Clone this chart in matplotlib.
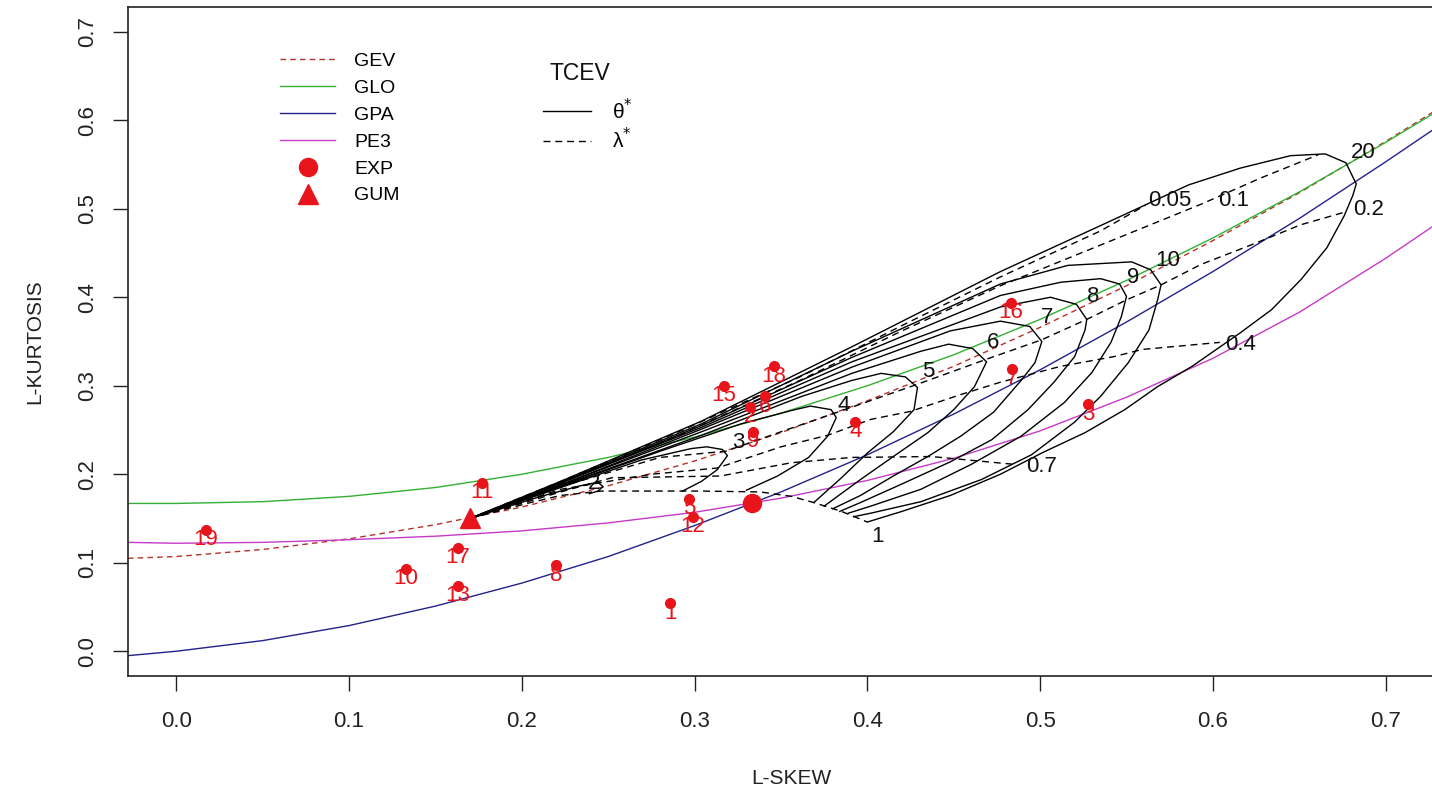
import matplotlib
matplotlib.use('Agg')
import matplotlib.pyplot as plt
from matplotlib.lines import Line2D

plt.rcParams['font.family'] = ['Liberation Sans', 'DejaVu Sans']

# theoretical L-moment ratio curves (read along the L-skew grid)
skew_grid = [-0.028, 0.0, 0.05, 0.1, 0.15, 0.2, 0.25, 0.3, 0.35, 0.4,
             0.45, 0.5, 0.55, 0.6, 0.65, 0.7, 0.728]
gev_kurt = [0.105, 0.107, 0.115, 0.127, 0.143, 0.163, 0.187, 0.215, 0.247, 0.283,
            0.322, 0.366, 0.413, 0.464, 0.518, 0.576, 0.610]
glo_kurt = [0.167, 0.167, 0.169, 0.175, 0.185, 0.200, 0.219, 0.242, 0.269, 0.300,
            0.335, 0.375, 0.419, 0.467, 0.519, 0.575, 0.608]
gpa_kurt = [-0.005, 0.0, 0.012, 0.029, 0.051, 0.077, 0.107, 0.142, 0.180, 0.222,
            0.268, 0.318, 0.372, 0.429, 0.489, 0.553, 0.590]
pe3_kurt = [0.123, 0.122, 0.123, 0.126, 0.130, 0.136, 0.145, 0.157, 0.173, 0.193,
            0.218, 0.249, 0.287, 0.331, 0.383, 0.444, 0.481]

exp_point = (0.333, 0.167)
gum_point = (0.170, 0.150)

# sample L-moment ratios
site_ids = ['1', '2', '3', '4', '5', '6', '7', '8', '9', '10',
            '11', '12', '13', '15', '16', '17', '18', '19']
site_skew = [0.286, 0.332, 0.528, 0.393, 0.297, 0.341, 0.484, 0.220, 0.334, 0.133,
             0.177, 0.299, 0.163, 0.317, 0.483, 0.163, 0.346, 0.017]
site_kurt = [0.054, 0.276, 0.279, 0.259, 0.172, 0.288, 0.319, 0.097, 0.248, 0.093,
             0.190, 0.152, 0.074, 0.300, 0.394, 0.117, 0.322, 0.137]

# TCEV theta* curves (lambda* running from 0 at GUM to 1)
theta_2 = [(0.170, 0.150), (0.211, 0.175), (0.234, 0.187), (0.244, 0.191),
           (0.247, 0.186), (0.244, 0.181), (0.239, 0.178)]
theta_3 = [(0.170, 0.150), (0.2225, 0.185), (0.269, 0.216), (0.298, 0.229), (0.307, 0.231),
           (0.316, 0.228), (0.319, 0.221), (0.313, 0.205), (0.304, 0.192), (0.293, 0.181)]
theta_4 = [(0.170, 0.150), (0.2225, 0.186), (0.280, 0.226), (0.327, 0.257), (0.356, 0.272),
           (0.367, 0.277), (0.379, 0.273), (0.382, 0.264), (0.377, 0.243), (0.366, 0.219),
           (0.348, 0.198), (0.330, 0.182)]
theta_5 = [(0.170, 0.150), (0.2225, 0.187), (0.304, 0.244), (0.362, 0.288), (0.391, 0.306),
           (0.408, 0.314), (0.422, 0.310), (0.429, 0.298), (0.427, 0.273), (0.415, 0.248),
           (0.400, 0.224), (0.385, 0.196), (0.369, 0.168)]
theta_6 = [(0.170, 0.150), (0.2225, 0.188), (0.304, 0.248), (0.391, 0.314), (0.431, 0.339),
           (0.447, 0.347), (0.461, 0.342), (0.469, 0.327), (0.462, 0.299), (0.450, 0.273),
           (0.435, 0.247), (0.415, 0.220), (0.396, 0.194), (0.375, 0.164)]
theta_7 = [(0.170, 0.150), (0.2225, 0.188), (0.304, 0.251), (0.391, 0.321), (0.448, 0.362),
           (0.477, 0.373), (0.494, 0.367), (0.501, 0.350), (0.497, 0.326), (0.489, 0.306),
           (0.473, 0.270), (0.454, 0.243), (0.435, 0.220), (0.415, 0.198), (0.396, 0.176),
           (0.380, 0.161)]
theta_8 = [(0.170, 0.150), (0.2225, 0.190), (0.304, 0.253), (0.391, 0.327), (0.477, 0.389),
           (0.506, 0.400), (0.521, 0.392), (0.527, 0.375), (0.526, 0.363), (0.520, 0.333),
           (0.508, 0.304), (0.493, 0.273), (0.472, 0.239), (0.448, 0.214), (0.420, 0.189),
           (0.396, 0.168), (0.384, 0.158)]
theta_9 = [(0.170, 0.150), (0.2225, 0.190), (0.304, 0.255), (0.391, 0.332), (0.477, 0.402),
           (0.512, 0.417), (0.535, 0.421), (0.546, 0.415), (0.550, 0.401), (0.547, 0.378),
           (0.541, 0.349), (0.530, 0.315), (0.514, 0.281), (0.489, 0.243), (0.460, 0.211),
           (0.431, 0.183), (0.402, 0.164), (0.389, 0.156)]
theta_10 = [(0.170, 0.150), (0.2225, 0.191), (0.304, 0.257), (0.391, 0.339), (0.477, 0.415),
            (0.516, 0.436), (0.553, 0.440), (0.564, 0.431), (0.570, 0.414), (0.568, 0.397),
            (0.563, 0.363), (0.551, 0.326), (0.535, 0.288), (0.520, 0.259), (0.495, 0.222),
            (0.466, 0.194), (0.431, 0.169), (0.402, 0.156), (0.392, 0.152)]
theta_20 = [(0.170, 0.150), (0.2225, 0.192), (0.304, 0.260), (0.391, 0.344), (0.477, 0.429),
            (0.535, 0.481), (0.586, 0.527), (0.616, 0.546), (0.645, 0.560), (0.665, 0.562),
            (0.677, 0.552), (0.683, 0.528), (0.681, 0.515), (0.676, 0.492), (0.666, 0.456),
            (0.651, 0.420), (0.634, 0.386), (0.616, 0.360), (0.588, 0.322), (0.568, 0.299),
            (0.549, 0.273), (0.526, 0.247), (0.502, 0.225), (0.477, 0.200), (0.448, 0.176),
            (0.420, 0.158), (0.400, 0.146)]
theta_curves = [theta_2, theta_3, theta_4, theta_5, theta_6, theta_7, theta_8,
                theta_9, theta_10, theta_20]

# TCEV lambda* curves
lambda_005 = [(0.170, 0.150), (0.2225, 0.192), (0.292, 0.249), (0.362, 0.311), (0.420, 0.368),
              (0.477, 0.423), (0.535, 0.475), (0.561, 0.504)]
lambda_01 = [(0.170, 0.150), (0.2225, 0.190), (0.292, 0.245), (0.362, 0.307), (0.420, 0.362),
             (0.477, 0.413), (0.535, 0.459), (0.593, 0.505), (0.628, 0.535), (0.661, 0.561)]
lambda_02 = [(0.170, 0.150), (0.2225, 0.186), (0.280, 0.219), (0.318, 0.226), (0.350, 0.248),
             (0.381, 0.269), (0.428, 0.301), (0.469, 0.330), (0.501, 0.352), (0.527, 0.375),
             (0.550, 0.397), (0.570, 0.414), (0.593, 0.437), (0.622, 0.459), (0.651, 0.482),
             (0.676, 0.496)]
lambda_04 = [(0.170, 0.150), (0.2225, 0.183), (0.275, 0.200), (0.313, 0.207), (0.350, 0.231),
             (0.377, 0.244), (0.402, 0.262), (0.425, 0.271), (0.454, 0.290), (0.477, 0.304),
             (0.512, 0.322), (0.543, 0.333), (0.559, 0.341), (0.604, 0.349)]
lambda_07 = [(0.170, 0.150), (0.2225, 0.180), (0.252, 0.196), (0.315, 0.198), (0.356, 0.213),
             (0.391, 0.219), (0.437, 0.220), (0.486, 0.211)]
lambda_1 = [(0.170, 0.150), (0.205, 0.168), (0.2225, 0.176), (0.246, 0.181), (0.304, 0.181),
            (0.338, 0.180), (0.356, 0.175), (0.369, 0.168), (0.385, 0.158), (0.400, 0.146)]
lambda_curves = [lambda_005, lambda_01, lambda_02, lambda_04, lambda_07, lambda_1]

theta_labels = ['1', '2', '3', '4', '5', '6', '7', '8', '9', '10', '20']
theta_label_x = [0.406, 0.242, 0.325, 0.386, 0.435, 0.473, 0.504, 0.531, 0.554, 0.574, 0.687]
theta_label_y = [0.130, 0.189, 0.236, 0.278, 0.316, 0.349, 0.377, 0.401, 0.422, 0.441, 0.564]
lambda_labels = ['0.05', '0.1', '0.2', '0.4', '0.7']
lambda_label_x = [0.575, 0.612, 0.690, 0.616, 0.501]
lambda_label_y = [0.509, 0.509, 0.499, 0.347, 0.209]

RED = '#E8141B'
GEV_C, GLO_C, GPA_C, PE3_C = '#B5312C', '#33B033', '#22228A', '#C83AC8'

fig = plt.figure(figsize=(14.32, 7.95), dpi=100)
ax = fig.add_axes([128 / 1432, 1 - 676 / 795, 1306 / 1432, 669 / 795])

ax.plot(skew_grid, gev_kurt, color=GEV_C, lw=1.0, dashes=(4, 3))
ax.plot(skew_grid, glo_kurt, color=GLO_C, lw=1.0)
ax.plot(skew_grid, gpa_kurt, color=GPA_C, lw=1.0)
ax.plot(skew_grid, pe3_kurt, color=PE3_C, lw=1.0)

for curve in theta_curves:
    xs, ys = zip(*curve)
    ax.plot(xs, ys, color='black', lw=1.0)
for curve in lambda_curves:
    xs, ys = zip(*curve)
    ax.plot(xs, ys, color='black', lw=1.0, dashes=(5, 3.5))

for lab, x, y in zip(theta_labels, theta_label_x, theta_label_y):
    ax.text(x, y, lab, fontsize=16, ha='center', va='center', color='#111111')
for lab, x, y in zip(lambda_labels, lambda_label_x, lambda_label_y):
    ax.text(x, y, lab, fontsize=16, ha='center', va='center', color='#111111')

ax.plot(site_skew, site_kurt, 'o', color=RED, ms=7, zorder=5)
for lab, x, y in zip(site_ids, site_skew, site_kurt):
    ax.text(x, y - 0.011, lab, fontsize=16, ha='center', va='center', color=RED, zorder=6)

ax.plot(*exp_point, 'o', color=RED, ms=13, zorder=5)
ax.plot(*gum_point, '^', color=RED, ms=14, zorder=5)

ax.set_xlim(-0.028, 0.728)
ax.set_ylim(-0.028, 0.728)
ticks = [0.0, 0.1, 0.2, 0.3, 0.4, 0.5, 0.6, 0.7]
ax.set_xticks(ticks)
ax.set_yticks(ticks)
ax.set_xticklabels(['%.1f' % t for t in ticks])
ax.set_yticklabels(['%.1f' % t for t in ticks], rotation=90, va='center')
ax.tick_params(direction='out', length=11, width=1, labelsize=16, colors='#222222')
ax.tick_params(axis='x', pad=14)
ax.tick_params(axis='y', pad=10.5)
for s in ax.spines.values():
    s.set_linewidth(1.2)
    s.set_color('#222222')

ax.set_xlabel('L-SKEW', fontsize=15, color='#222222')
ax.set_ylabel('L-KURTOSIS', fontsize=15, color='#222222')
ax.xaxis.set_label_coords(0.508, -0.139)
ax.yaxis.set_label_coords(-0.064, 0.5)

handles1 = [
    Line2D([], [], color=GEV_C, lw=1.0, dashes=(4, 3)),
    Line2D([], [], color=GLO_C, lw=1.0),
    Line2D([], [], color=GPA_C, lw=1.0),
    Line2D([], [], color=PE3_C, lw=1.0),
    Line2D([], [], ls='none', marker='o', color=RED, ms=13),
    Line2D([], [], ls='none', marker='^', color=RED, ms=14),
]
leg1 = ax.legend(handles1, ['GEV', 'GLO', 'GPA', 'PE3', 'EXP', 'GUM'],
                 loc='upper left', bbox_to_anchor=(0.1166, 0.9325), frameon=False,
                 fontsize=14, handlelength=2.8, handletextpad=1.0, labelspacing=0.48,
                 borderpad=0, borderaxespad=0)
ax.add_artist(leg1)

handles2 = [Line2D([], [], color='black', lw=1.0),
            Line2D([], [], color='black', lw=1.0, dashes=(5, 3.5))]
ax.legend(handles2, ['θ$^{*}$', 'λ$^{*}$'],
          loc='upper left', bbox_to_anchor=(0.318, 0.8646), frameon=False,
          fontsize=15, handlelength=2.3, handletextpad=1.0,
          labelspacing=0.21, borderpad=0, borderaxespad=0)
ax.text(0.346, 0.901, 'TCEV', transform=ax.transAxes, fontsize=16.5,
        ha='center', va='center', color='#111111')

fig.savefig('out.png', dpi=100)
